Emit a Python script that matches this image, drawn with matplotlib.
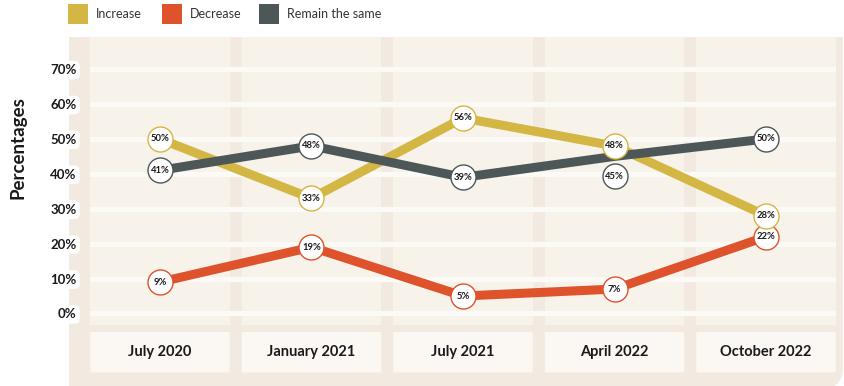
import matplotlib
matplotlib.use("Agg")
import matplotlib.pyplot as plt
from matplotlib.patches import FancyBboxPatch, Rectangle
from matplotlib.transforms import ScaledTranslation

# ---- data ----
periods = ["July 2020", "January 2021", "July 2021", "April 2022", "October 2022"]
increase = [50, 33, 56, 48, 28]
decrease = [9, 19, 5, 7, 22]
remain = [41, 48, 39, 45, 50]
series_names = ["Increase", "Decrease", "Remain the same"]
y_ticks = [0, 10, 20, 30, 40, 50, 60, 70]

# ---- styling ----
C_INC = "#D4B645"
C_DEC = "#DE522C"
C_REM = "#4E5757"
BG_OUTER = "#F2EAE0"
BG_COL = "#F7F2EA"
GRID = "#FCFAF6"
BOX = "#FBF8F4"
TXT = "#1A1A1A"
FONT = ["Lato", "DejaVu Sans"]
plt.rcParams["font.family"] = FONT

W, H = 844, 386
DPI = 100
fig = plt.figure(figsize=(W / DPI, H / DPI), dpi=DPI)
fig.patch.set_facecolor("white")

# background layer in pixel coordinates
bg = fig.add_axes([0, 0, 1, 1])
bg.set_xlim(0, W)
bg.set_ylim(H, 0)
bg.axis("off")
# outer panel: only the lower-right corner is rounded
bg.add_patch(FancyBboxPatch((69, 37), 774, 352,
                            boxstyle="round,pad=0,rounding_size=22",
                            fc=BG_OUTER, ec="none"))
bg.add_patch(Rectangle((69, 37), 774, 40, fc=BG_OUTER, ec="none"))
bg.add_patch(Rectangle((69, 37), 60, 352, fc=BG_OUTER, ec="none"))

# legend drawn as swatches plus labels
legend_colors = [C_INC, C_DEC, C_REM]
legend_x = [68, 162, 259]
for lx, col, name in zip(legend_x, legend_colors, series_names):
    bg.add_patch(Rectangle((lx, 4), 20, 20, fc=col, ec="none"))
    bg.text(lx + 28, 14.5, name, ha="left", va="center", fontsize=9, color="#333333")

# main plotting axes
x_left, x_right = 90.3, 835.7
y_top, y_bot = 37, 325
ax = fig.add_axes([x_left / W, (H - y_bot) / H, (x_right - x_left) / W, (y_bot - y_top) / H])
ax.set_facecolor("none")
ax.set_xlim(-0.46, len(periods) - 1 + 0.46)
ax.set_ylim(-3.3, 79.2)
for s in ax.spines.values():
    s.set_visible(False)

xs = list(range(len(periods)))

# column panels
for x in xs:
    ax.add_patch(Rectangle((x - 0.46, -3.3), 0.92, 82.5, fc=BG_COL, ec="none", zorder=0))

# horizontal bands at each tick
for t in y_ticks:
    ax.axhline(t, color=GRID, lw=3.8, zorder=1)

# category label boxes under the panels
for x, name in zip(xs, periods):
    ax.add_patch(FancyBboxPatch((x - 0.46, -16.9), 0.92, 11.6,
                                boxstyle="round,pad=0,rounding_size=0.02",
                                mutation_aspect=8,
                                fc=BOX, ec="none", clip_on=False, zorder=1))
    ax.text(x, -11.1, name, ha="center", va="center", fontsize=10.5,
            fontweight="bold", color=TXT, clip_on=False)

ax.set_xticks([])
ax.set_yticks(y_ticks)
ax.set_yticklabels([f"{t}%" for t in y_ticks])
ax.tick_params(axis="y", length=0, pad=10, labelsize=9.5, labelcolor=TXT)
for lab in ax.get_yticklabels():
    lab.set_fontweight("bold")
    lab.set_bbox(dict(boxstyle="round,pad=0.25,rounding_size=0.4", fc="white", ec="none"))

fig.text(18 / W, 1 - 148 / H, "Percentages", rotation=90, ha="center", va="center",
         fontsize=13.5, fontweight="bold", color=TXT)

# lines (grey drawn on top)
series = [(decrease, C_DEC, 2), (increase, C_INC, 3), (remain, C_REM, 4)]
for vals, col, z in series:
    ax.plot(xs, vals, color=col, lw=6.5, solid_joinstyle="round", solid_capstyle="round", zorder=z)

# value markers; the 45% circle sits below its line to stay clear of 48%
label_shift = {(2, 3): -20}
for si, (vals, col, _) in enumerate(series):
    for i, v in enumerate(vals):
        dy = label_shift.get((si, i), 0)
        tr = ax.transData + ScaledTranslation(0, dy / DPI, fig.dpi_scale_trans)
        ax.plot([i], [v], marker="o", ms=18, mfc="white", mec=col, mew=1.0,
                transform=tr, zorder=6)
        ax.text(i, v, f"{v}%", transform=tr, ha="center", va="center",
                fontsize=6.8, fontweight="bold", color=TXT, zorder=7)

fig.savefig("out.png", dpi=DPI, facecolor="white")
